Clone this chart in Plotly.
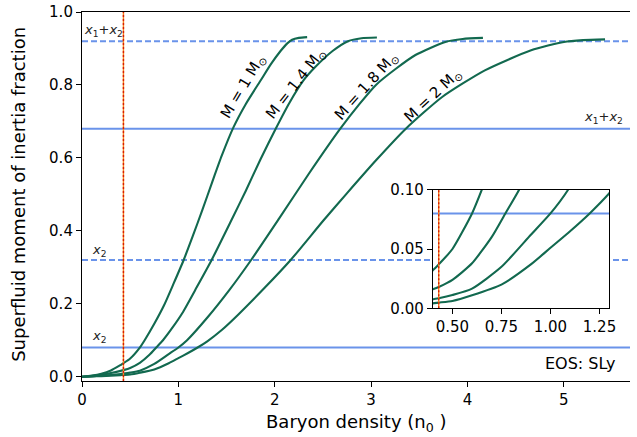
import plotly.graph_objects as go

# ---------------- data ----------------
M1_X = [0, 0.1, 0.2, 0.3, 0.4, 0.43, 0.5, 0.6, 0.65, 0.75, 0.85, 0.95, 1.055, 1.15, 1.25, 1.35, 1.45, 1.57, 1.70, 1.86, 1.96, 2.06, 2.13, 2.18, 2.25, 2.336]
M1_Y = [0, 0.003, 0.008, 0.017, 0.032, 0.037, 0.05, 0.08, 0.10, 0.145, 0.195, 0.255, 0.32, 0.386, 0.458, 0.533, 0.606, 0.683, 0.748, 0.815, 0.857, 0.893, 0.914, 0.924, 0.929, 0.931]

M14_X = [0, 0.1, 0.2, 0.3, 0.4, 0.43, 0.5, 0.6, 0.7, 0.77, 0.84, 0.94, 1.04, 1.19, 1.345, 1.55, 1.70, 1.85, 2.01, 2.15, 2.30, 2.42, 2.6, 2.76, 2.9, 3.06]
M14_Y = [0, 0.002, 0.005, 0.01, 0.016, 0.018, 0.024, 0.038, 0.06, 0.08, 0.10, 0.135, 0.174, 0.245, 0.32, 0.429, 0.51, 0.595, 0.68, 0.75, 0.813, 0.849, 0.893, 0.92, 0.928, 0.93]

M18_X = [0, 0.1, 0.2, 0.3, 0.4, 0.43, 0.5, 0.6, 0.75, 0.9, 1.0, 1.09, 1.31, 1.53, 1.755, 2.046, 2.35, 2.68, 2.88, 3.05, 3.26, 3.46, 3.77, 3.95, 4.16]
M18_Y = [0, 0.001, 0.0025, 0.0048, 0.0076, 0.0085, 0.0112, 0.0166, 0.035, 0.062, 0.08, 0.10, 0.165, 0.238, 0.32, 0.434, 0.555, 0.68, 0.748, 0.800, 0.845, 0.882, 0.918, 0.926, 0.929]

M2_X = [0, 0.1, 0.2, 0.3, 0.4, 0.43, 0.5, 0.6, 0.75, 0.9, 1.0, 1.1, 1.2, 1.3, 1.45, 1.62, 1.9, 2.165, 2.507, 2.746, 3.053, 3.36, 3.737, 4.18, 4.66, 5.0, 5.2, 5.427]
M2_Y = [0, 0.0007, 0.0015, 0.0028, 0.0042, 0.0048, 0.0062, 0.011, 0.020, 0.037, 0.051, 0.065, 0.08, 0.097, 0.128, 0.17, 0.245, 0.32, 0.429, 0.502, 0.594, 0.68, 0.767, 0.840, 0.895, 0.918, 0.923, 0.925]

CURVE_LABELS = ["M = 1 M<sub>⊙</sub>", "M = 1.4 M<sub>⊙</sub>", "M = 1.8 M<sub>⊙</sub>", "M = 2 M<sub>⊙</sub>"]
LABEL_POS_X = [1.67, 2.22, 2.95, 3.64]
LABEL_POS_Y = [0.797, 0.804, 0.795, 0.772]
LABEL_ANGLE = [-59, -52, -48, -43]

HLINE_SOLID = [0.08, 0.68]
HLINE_DASHED = [0.32, 0.92]
CRUST_CORE_N = 0.43

X_TICKS = [0, 1, 2, 3, 4, 5]
Y_TICKS = [0.0, 0.2, 0.4, 0.6, 0.8, 1.0]
INSET_X_TICKS = [0.50, 0.75, 1.00, 1.25]
INSET_Y_TICKS = [0.00, 0.05, 0.10]

X_RANGE = [0, 5.686]
Y_RANGE = [-0.0118, 1.0]
INSET_X_RANGE = [0.4, 1.3]
INSET_Y_RANGE = [0.0, 0.1]

# ---------------- style ----------------
GREEN = "#12694f"
BLUE = "#6a93ea"
FONT = "DejaVu Sans"

fig = go.Figure()

curves = [(M1_X, M1_Y), (M14_X, M14_Y), (M18_X, M18_Y), (M2_X, M2_Y)]

for xa, ya, xr, yr in [("x", "y", X_RANGE, Y_RANGE), ("x2", "y2", INSET_X_RANGE, INSET_Y_RANGE)]:
    for v in HLINE_SOLID:
        fig.add_trace(go.Scatter(x=xr, y=[v, v], mode="lines", xaxis=xa, yaxis=ya,
                                 line=dict(color=BLUE, width=2), showlegend=False, hoverinfo="skip"))
    for v in HLINE_DASHED:
        fig.add_trace(go.Scatter(x=xr, y=[v, v], mode="lines", xaxis=xa, yaxis=ya,
                                 line=dict(color=BLUE, width=2, dash="6px,3px"), showlegend=False, hoverinfo="skip"))
    for cx, cy in curves:
        fig.add_trace(go.Scatter(x=cx, y=cy, mode="lines", xaxis=xa, yaxis=ya,
                                 line=dict(color=GREEN, width=2.1, shape="spline", smoothing=0.6),
                                 showlegend=False))
    fig.add_trace(go.Scatter(x=[CRUST_CORE_N, CRUST_CORE_N], y=yr, mode="lines", xaxis=xa, yaxis=ya,
                             line=dict(color="#f7801e", width=1.4), showlegend=False, hoverinfo="skip"))
    fig.add_trace(go.Scatter(x=[CRUST_CORE_N, CRUST_CORE_N], y=yr, mode="lines", xaxis=xa, yaxis=ya,
                             line=dict(color="#d81e00", width=1.4, dash="2px,2px"), showlegend=False, hoverinfo="skip"))

annotations = []
for txt, lx, ly, ang in zip(CURVE_LABELS, LABEL_POS_X, LABEL_POS_Y, LABEL_ANGLE):
    annotations.append(dict(x=lx, y=ly, xref="x", yref="y", text=txt, showarrow=False,
                            textangle=ang, font=dict(family=FONT, size=15, color="black"),
                            xanchor="center", yanchor="middle"))

X12 = "<i>x</i><sub>1</sub>+<i>x</i><sub>2</sub>"
X2 = "<i>x</i><sub>2</sub>"
for txt, lx, ly in [(X12, 0.222, 0.948), (X2, 0.18, 0.345), (X2, 0.18, 0.109), (X12, 5.41, 0.711)]:
    annotations.append(dict(x=lx, y=ly, xref="x", yref="y", text=txt, showarrow=False,
                            font=dict(family=FONT, size=13, color="#222"),
                            xanchor="center", yanchor="middle"))

annotations.append(dict(x=5.55, y=0.037, xref="x", yref="y", text="EOS: SLy", showarrow=False,
                        font=dict(family=FONT, size=16, color="black"), xanchor="right", yanchor="middle"))
annotations.append(dict(x=0.501, y=-0.113, xref="paper", yref="paper", text="Baryon density (n<sub>0</sub> )",
                        showarrow=False, font=dict(family=FONT, size=18, color="black"),
                        xanchor="center", yanchor="middle"))
annotations.append(dict(x=-0.1153, y=0.5068, xref="paper", yref="paper",
                        text="Superfluid moment of inertia fraction", textangle=-90,
                        showarrow=False, font=dict(family=FONT, size=18, color="black"),
                        xanchor="center", yanchor="middle"))

axis_common = dict(showgrid=False, zeroline=False, linecolor="black", linewidth=1.1,
                   ticks="outside", ticklen=5, tickwidth=1.1, tickcolor="black",
                   tickfont=dict(family=FONT, size=15, color="black"))

fig.update_layout(
    width=637, height=437,
    margin=dict(l=82, r=0, t=12, b=56),
    paper_bgcolor="white", plot_bgcolor="white",
    showlegend=False,
    annotations=annotations,
    xaxis=dict(range=X_RANGE, domain=[0, 1], tickvals=X_TICKS, ticktext=[str(t) for t in X_TICKS],
               mirror=True, anchor="y", **axis_common),
    yaxis=dict(range=Y_RANGE, domain=[0, 1], tickvals=Y_TICKS, ticktext=[f"{t:.1f}" for t in Y_TICKS],
               anchor="x", **axis_common),
    xaxis2=dict(range=INSET_X_RANGE, domain=[0.6402, 0.9622], tickvals=INSET_X_TICKS,
                ticktext=[f"{t:.2f}" for t in INSET_X_TICKS], mirror=True, anchor="y2", **axis_common),
    yaxis2=dict(range=INSET_Y_RANGE, domain=[0.197, 0.5184], tickvals=INSET_Y_TICKS,
                ticktext=[f"{t:.2f}" for t in INSET_Y_TICKS], mirror=True, anchor="x2", **axis_common),
)

fig.write_html("out.html")
